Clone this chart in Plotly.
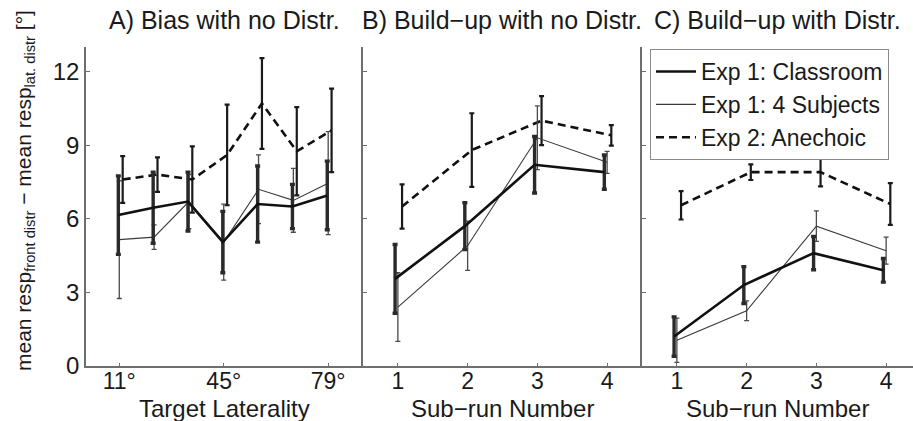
import plotly.graph_objects as go

# Target laterality (degrees) and sub-run numbers
laterality = [11.25, 22.5, 33.75, 45.0, 56.25, 67.5, 78.75]
lat_tickvals = [11.25, 45.0, 78.75]
lat_ticktext = ["11°", "45°", "79°"]
subruns = [1, 2, 3, 4]
subrun_ticktext = ["1", "2", "3", "4"]
y_ticks = [0, 3, 6, 9, 12]

series_names = ["Exp 1: Classroom", "Exp 1: 4 Subjects", "Exp 2: Anechoic"]

# A) Bias with no distractor
classroom_A = [6.15, 6.45, 6.7, 5.05, 6.6, 6.5, 6.95]
classroom_A_err = [1.6, 1.45, 1.2, 1.25, 1.55, 0.9, 1.4]
subjects_A = [5.15, 5.25, 6.7, 5.05, 7.2, 6.75, 7.45]
subjects_A_err = [2.4, 0.5, 1.1, 1.55, 1.4, 1.3, 2.1]
anechoic_A = [7.6, 7.8, 7.6, 8.6, 10.7, 8.75, 9.6]
anechoic_A_err = [0.95, 0.7, 1.35, 2.05, 1.85, 1.8, 1.7]

# B) Build-up with no distractor
classroom_B = [3.55, 5.7, 8.2, 7.9]
classroom_B_err = [1.4, 0.95, 1.15, 0.7]
subjects_B = [2.4, 4.9, 9.3, 8.3]
subjects_B_err = [1.4, 1.0, 1.3, 0.45]
anechoic_B = [6.5, 8.8, 10.0, 9.4]
anechoic_B_err = [0.9, 1.5, 1.0, 0.42]

# C) Build-up with distractor
classroom_C = [1.2, 3.3, 4.6, 3.9]
classroom_C_err = [0.8, 0.75, 0.68, 0.48]
subjects_C = [1.05, 2.25, 5.7, 4.7]
subjects_C_err = [0.9, 0.4, 0.62, 0.55]
anechoic_C = [6.55, 7.9, 7.9, 6.6]
anechoic_C_err = [0.58, 0.32, 0.58, 0.85]

FONT = "Liberation Sans, Arial, Helvetica, sans-serif"
TXT = "#1a1a1a"
AXIS = "#6e6e6e"
FS_TITLE = 25
FS_XTITLE = 24
FS_TICK = 24
FS_XTICK = 23

# line / error-bar styling per series
styles = [
    dict(line=dict(color="#111111", width=2.6),
         err=dict(color="#2a2a2a", thickness=3.4, width=2.5)),
    dict(line=dict(color="#3a3a3a", width=1.1),
         err=dict(color="#4a4a4a", thickness=1.3, width=2.5)),
    dict(line=dict(color="#111111", width=2.6, dash="8px,5px"),
         err=dict(color="#1a1a1a", thickness=2.2, width=2.5)),
]

panels = [
    ("x", "y", laterality,
     [(classroom_A, classroom_A_err), (subjects_A, subjects_A_err), (anechoic_A, anechoic_A_err)],
     [-0.3, 0.0, 1.1]),
    ("x2", "y2", subruns,
     [(classroom_B, classroom_B_err), (subjects_B, subjects_B_err), (anechoic_B, anechoic_B_err)],
     [-0.04, 0.0, 0.06]),
    ("x3", "y3", subruns,
     [(classroom_C, classroom_C_err), (subjects_C, subjects_C_err), (anechoic_C, anechoic_C_err)],
     [-0.04, 0.0, 0.06]),
]

fig = go.Figure()
for pi, (xa, ya, xs, data, offs) in enumerate(panels):
    for si in (2, 1, 0):
        vals, errs = data[si]
        st = styles[si]
        fig.add_trace(go.Scatter(
            x=[v + offs[si] for v in xs], y=vals,
            mode="lines",
            name=series_names[si],
            legendgroup=series_names[si],
            legendrank=si,
            showlegend=(pi == 2),
            line=st["line"],
            error_y=dict(type="data", array=errs, visible=True, **st["err"]),
            xaxis=xa, yaxis=ya,
            hoverinfo="skip",
        ))

W, H = 913, 421
L, R, T, B = 86, 0, 47, 55
pw = W - L - R
ph = H - T - B
x_a_end = (363 - L) / pw
x_b_end = (642 - L) / pw

common_x = dict(showline=True, linecolor=AXIS, linewidth=1.5, ticks="inside",
                ticklen=3, tickcolor=AXIS, tickwidth=1, showgrid=False, zeroline=False,
                tickfont=dict(family=FONT, size=FS_XTICK, color=TXT), fixedrange=True,
                ticklabelstandoff=-6)
common_y = dict(showline=True, linecolor=AXIS, linewidth=1.5, ticks="inside",
                ticklen=4, tickcolor=AXIS, tickwidth=1, showgrid=False, zeroline=False,
                range=[0, 13], tickvals=y_ticks,
                tickfont=dict(family=FONT, size=FS_TICK, color=TXT), fixedrange=True)

fig.update_layout(
    width=W, height=H,
    margin=dict(l=L, r=R, t=T, b=B),
    paper_bgcolor="white", plot_bgcolor="white",
    font=dict(family=FONT, size=FS_TICK, color=TXT),
    xaxis=dict(common_x, domain=[0, x_a_end], range=[0.5, 90],
               tickvals=lat_tickvals, ticktext=lat_ticktext),
    xaxis2=dict(common_x, domain=[x_a_end, x_b_end], range=[0.5, 4.5],
                tickvals=subruns, ticktext=subrun_ticktext),
    xaxis3=dict(common_x, domain=[x_b_end, 1.0], range=[0.5, 0.5 + (W - 642) / 69.75],
                tickvals=subruns, ticktext=subrun_ticktext),
    yaxis=dict(common_y, anchor="x", showticklabels=True),
    yaxis2=dict(common_y, anchor="x2", showticklabels=False),
    yaxis3=dict(common_y, anchor="x3", showticklabels=False),
    showlegend=True,
    legend=dict(x=(650 - L) / pw, y=1 - (49 - T) / ph,
                xanchor="left", yanchor="top",
                bgcolor="white", bordercolor="#8a8a8a", borderwidth=1,
                font=dict(family=FONT, size=23, color=TXT),
                tracegroupgap=0, itemwidth=40, traceorder="normal"),
)


def py(pix):
    return (H - B - pix) / ph


titles = ["A) Bias with no Distr.", "B) Build\u2212up with no Distr.", "C) Build\u2212up with Distr."]
xtitles = ["Target Laterality", "Sub\u2212run Number", "Sub\u2212run Number"]
domains = [(0, x_a_end), (x_a_end, x_b_end), (x_b_end, 1.0)]
for (d0, d1), t, xt in zip(domains, titles, xtitles):
    cx = (d0 + d1) / 2
    fig.add_annotation(x=cx, y=py(20), xref="paper", yref="paper", text=t,
                       showarrow=False, xanchor="center", yanchor="middle",
                       font=dict(family=FONT, size=FS_TITLE, color=TXT))
    fig.add_annotation(x=cx, y=py(408.5), xref="paper", yref="paper", text=xt,
                       showarrow=False, xanchor="center", yanchor="middle",
                       font=dict(family=FONT, size=FS_XTITLE, color=TXT))

fig.add_annotation(
    x=(25 - L) / pw, y=py(191), xref="paper", yref="paper",
    text="mean resp<sub>front distr</sub> \u2212 mean resp<sub>lat. distr</sub> [°]",
    textangle=-90, showarrow=False, xanchor="center", yanchor="middle",
    font=dict(family=FONT, size=21, color=TXT))

fig.write_html("out.html")
